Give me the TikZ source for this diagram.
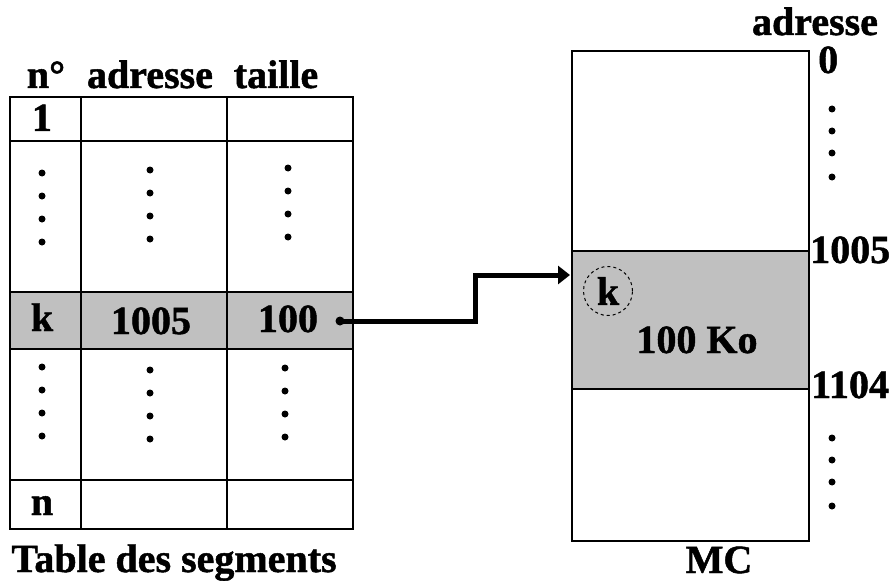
\documentclass[tikz,border=0pt]{standalone}
\usepackage{fontspec}
\setmainfont{Liberation Serif}[BoldFeatures={FakeBold=1.2}]
\usetikzlibrary{arrows.meta, positioning, calc}

\definecolor{gris}{RGB}{192,192,192}

\begin{document}
\begin{tikzpicture}[
    x=1pt, y=-1pt,
    >=Triangle,
    txt/.style={font=\fontsize{40}{42}\selectfont\bfseries, inner sep=0pt},
    grille/.style={line width=2pt},
    cercle/.style={circle, draw, dashed, line width=1pt, minimum size=49pt,
                   inner sep=0pt}
  ]
  \useasboundingbox (0,0) rectangle (890,580);

  % table des segments
  \fill[gris] (10,292) rectangle (353,349);
  \draw[grille] (10,97) rectangle (353,529);
  \foreach \y in {141,292,349,480}
    \draw[grille] (10,\y) -- (353,\y);
  \foreach \x in {81,227}
    \draw[grille] (\x,97) -- (\x,529);

  \node[txt, anchor=base] (hno) at (46,88) {n°};
  \node[txt, anchor=base] (hadr) at (150,88) {adresse};
  \node[txt, anchor=base] (htaille) at (276,88) {taille};

  \node[txt, anchor=base] (un) at (42,131) {1};
  \node[txt, anchor=base] (k) at (42,331) {k};
  \node[txt, anchor=base] (adrk) at (151,334) {1005};
  \node[txt, anchor=base] (taillek) at (288,332) {100};
  \node[txt, anchor=base] (n) at (42,515) {n};
  \node[txt, anchor=base] (titre) at (174,572) {Table des segments};

  % points de suspension
  \foreach \x/\y in {42/173, 150/170, 288/168, 42/367, 150/370, 285/368}
    \foreach \i in {0,...,3}
      \fill (\x,\y+23*\i) circle (3.5pt);

  \node[circle, fill, inner sep=0pt, minimum size=9pt] (pk) at (340,321) {};

  % memoire centrale
  \fill[gris] (572,251) rectangle (809,389);
  \draw[grille] (572,51) rectangle (809,541);
  \draw[grille] (572,251) -- (809,251);
  \draw[grille] (572,389) -- (809,389);

  \node[txt, anchor=base] (madr) at (815,35) {adresse};
  \node[txt, anchor=base west] (m0) at (818,73) {0};
  \node[txt, anchor=base west] (m1005) at (810,263) {1005};
  \node[txt, anchor=base west] (m1104) at (811,398) {1104};
  \foreach \y in {109,131,153,177,438,460,482,506}
    \fill (832,\y) circle (3.5pt);

  \node[cercle, txt] (ck) at (608,291) {k};
  \node[txt, anchor=base] (taille) at (697,353) {100 Ko};
  \node[txt, anchor=base] (mc) at (719,573) {MC};

  \coordinate (entree) at (570,275);
  \draw[line width=5pt, -{Triangle[length=12pt, width=18pt]}]
    (pk.center) -- (475,321) |- (entree);
\end{tikzpicture}
\end{document}
